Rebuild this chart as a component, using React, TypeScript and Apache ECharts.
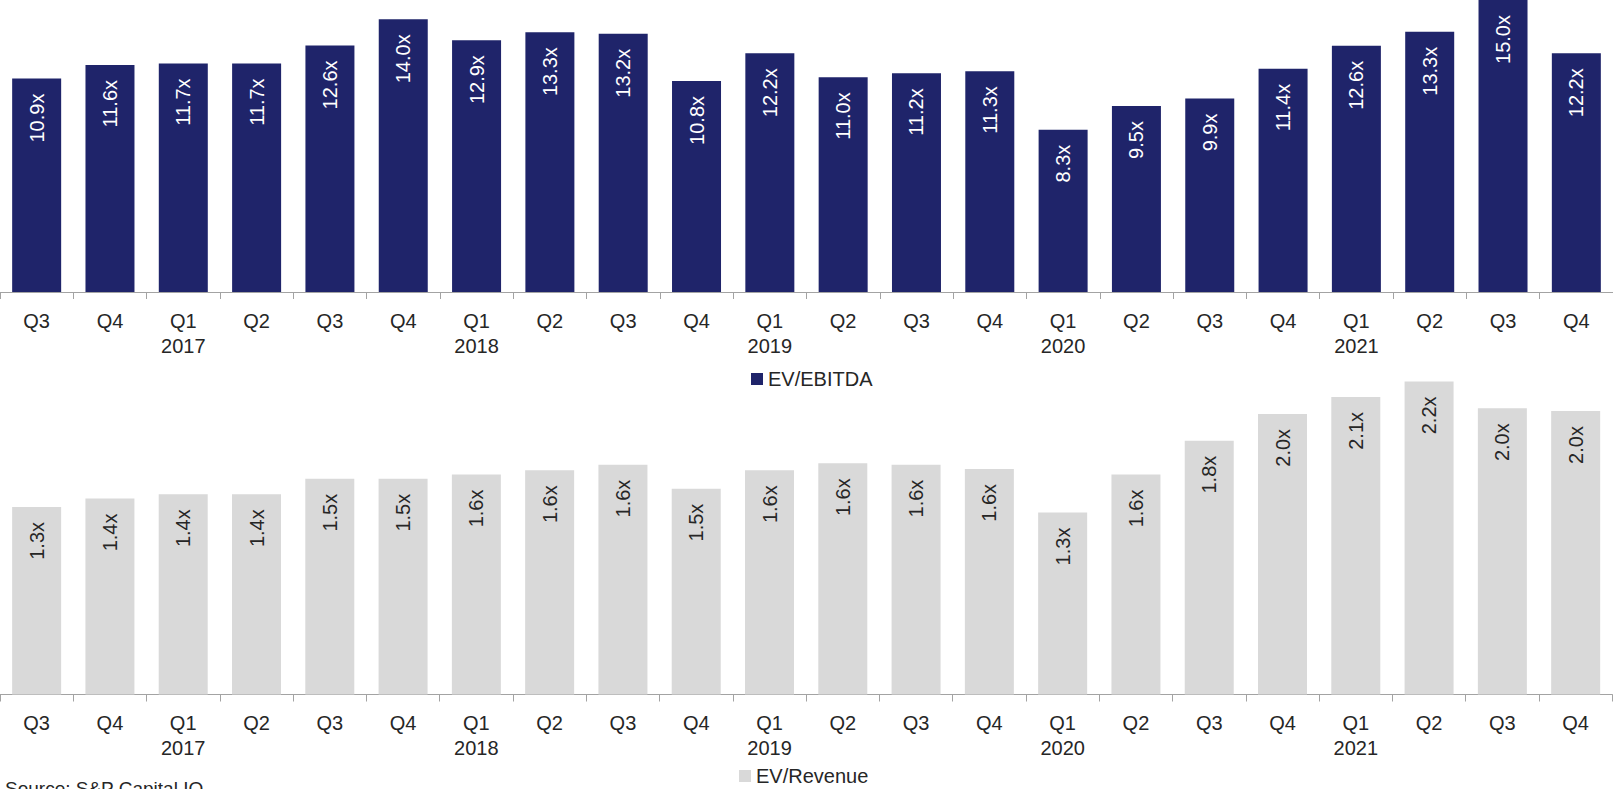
import React, { useEffect, useRef } from "react";
import * as echarts from "echarts";

const categories = [
  "Q3", "Q4", "Q1\n2017", "Q2", "Q3", "Q4", "Q1\n2018", "Q2", "Q3", "Q4", "Q1\n2019",
  "Q2", "Q3", "Q4", "Q1\n2020", "Q2", "Q3", "Q4", "Q1\n2021", "Q2", "Q3", "Q4",
];

const evEbitda = [
  10.94, 11.64, 11.72, 11.72, 12.64, 13.98, 12.91, 13.32, 13.24, 10.82, 12.24,
  11.01, 11.21, 11.32, 8.32, 9.53, 9.92, 11.44, 12.62, 13.34, 15.0, 12.24,
];

const evRevenue = [
  1.33, 1.39, 1.42, 1.42, 1.53, 1.53, 1.56, 1.59, 1.63, 1.46, 1.59,
  1.64, 1.63, 1.6, 1.29, 1.56, 1.8, 1.99, 2.11, 2.22, 2.03, 2.01,
];

const seriesNames = ["EV/EBITDA", "EV/Revenue"];
const sourceText = "Source: S&P Capital IQ";

const FONT = "'Liberation Sans', Arial, Helvetica, sans-serif";
const NAVY = "#1f246a";
const GREY = "#d9d9d9";
const AXIS = "#a3a3a3";
const TEXT = "#262626";

export default function App() {
  const ref = useRef<HTMLDivElement>(null);

  useEffect(() => {
    if (!ref.current) return;
    const chart = echarts.init(ref.current, undefined, { renderer: "svg" });

    const xAxisBase = (gridIndex: number) => ({
      type: "category" as const,
      gridIndex,
      data: categories,
      axisLine: { show: true, lineStyle: { color: AXIS, width: 1 } },
      axisTick: { show: true, length: 7, lineStyle: { color: AXIS, width: 1 } },
      axisLabel: {
        interval: 0,
        fontSize: 20,
        lineHeight: 25,
        margin: 16,
        color: TEXT,
        fontFamily: FONT,
      },
      splitLine: { show: false },
    });

    const label = (color: string) => ({
      show: true,
      position: "insideTop" as const,
      distance: 15,
      rotate: 90,
      align: "right" as const,
      verticalAlign: "middle" as const,
      color,
      fontSize: 20,
      fontFamily: FONT,
      formatter: (p: any) => Number(p.value).toFixed(1) + "x",
    });

    chart.setOption({
      animation: false,
      backgroundColor: "#ffffff",
      textStyle: { fontFamily: FONT },
      grid: [
        { left: 0, top: 0, width: 1615, height: 292, containLabel: false },
        { left: -3.4, top: 356.1, width: 1615.7, height: 338.4, containLabel: false },
      ],
      xAxis: [xAxisBase(0), xAxisBase(1)],
      yAxis: [
        { type: "value", gridIndex: 0, min: 0, max: 14.97, show: false, splitLine: { show: false } },
        { type: "value", gridIndex: 1, min: 0, max: 2.4, show: false, splitLine: { show: false } },
      ],
      legend: [
        {
          data: [seriesNames[0]],
          left: 751,
          top: 369,
          padding: 0,
          icon: "rect",
          itemWidth: 12,
          itemHeight: 12,
          itemGap: 5,
          textStyle: { fontSize: 20, color: TEXT, fontFamily: FONT },
        },
        {
          data: [seriesNames[1]],
          left: 739,
          top: 766,
          padding: 0,
          icon: "rect",
          itemWidth: 12,
          itemHeight: 12,
          itemGap: 5,
          textStyle: { fontSize: 20, lineHeight: 18, color: TEXT, fontFamily: FONT },
        },
      ],
      series: [
        {
          name: seriesNames[0],
          type: "bar",
          xAxisIndex: 0,
          yAxisIndex: 0,
          data: evEbitda,
          barWidth: 49,
          clip: true,
          itemStyle: { color: NAVY },
          label: label("#ffffff"),
        },
        {
          name: seriesNames[1],
          type: "bar",
          xAxisIndex: 1,
          yAxisIndex: 1,
          data: evRevenue,
          barWidth: 49,
          itemStyle: { color: GREY },
          label: label(TEXT),
        },
      ],
      graphic: [
        {
          type: "text",
          x: 5,
          y: 779,
          style: {
            text: sourceText,
            font: `19px ${FONT}`,
            fill: TEXT,
            verticalAlign: "top",
            align: "left",
          },
        },
      ],
    });

    return () => chart.dispose();
  }, []);

  return (
    <div
      ref={ref}
      style={{ position: "fixed", left: 0, top: 0, width: 1613, height: 789, background: "#fff" }}
    />
  );
}
